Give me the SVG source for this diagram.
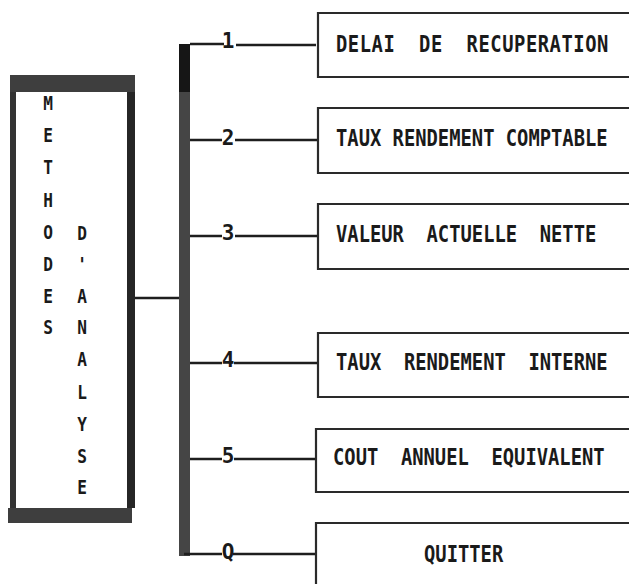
<svg xmlns="http://www.w3.org/2000/svg" width="629" height="584" viewBox="0 0 629 584">
<style>
.lbl{font-family:"DejaVu Sans Mono","Liberation Mono",monospace;font-weight:bold;font-size:18.8px;fill:#1a1a1a;white-space:pre}
.num{font-family:"DejaVu Sans Mono","Liberation Mono",monospace;font-weight:bold;font-size:21px;fill:#1a1a1a;text-anchor:middle}
.v{font-family:"DejaVu Sans Mono","Liberation Mono",monospace;font-weight:bold;font-size:19px;fill:#1a1a1a;text-anchor:middle}
.box{fill:#fff;stroke:#2a2a2a;stroke-width:2.2}
.wire{stroke:#1e1e1e;stroke-width:2.5;fill:none}
</style>
<rect width="629" height="584" fill="#fff"/>

<g id="methodes">
  <rect x="10" y="75" width="125" height="17" fill="#3e3e3e"/>
  <rect x="10" y="92" width="6" height="416" fill="#333"/>
  <rect x="127" y="92" width="8" height="416" fill="#262626"/>
  <rect x="8" y="508" width="124" height="15" fill="#3e3e3e"/>
  <text class="v" transform="translate(48 0) scale(0.85 1)" xml:space="preserve"><tspan x="0" y="110">M</tspan><tspan x="0" y="142">E</tspan><tspan x="0" y="174">T</tspan><tspan x="0" y="207">H</tspan><tspan x="0" y="239">O</tspan><tspan x="0" y="271">D</tspan><tspan x="0" y="303">E</tspan><tspan x="0" y="334">S</tspan></text>
  <text class="v" transform="translate(82 0) scale(0.85 1)" xml:space="preserve"><tspan x="0" y="240">D</tspan><tspan x="0" y="271">'</tspan><tspan x="0" y="303">A</tspan><tspan x="0" y="334">N</tspan><tspan x="0" y="366">A</tspan><tspan x="0" y="399">L</tspan><tspan x="0" y="431">Y</tspan><tspan x="0" y="463">S</tspan><tspan x="0" y="494">E</tspan></text>
</g>

<g id="connectors">
  <line class="wire" x1="135" y1="298" x2="180" y2="298"/>
  <rect x="179" y="92" width="11" height="464" fill="#454545"/>
  <rect x="179" y="44" width="11" height="48" fill="#161616"/>
  <path class="wire" d="M190 44 H224 M236 45 H316"/>
  <text class="num" x="228" y="48">1</text>
  <path class="wire" d="M190 140 H222 M235 140 H318"/>
  <text class="num" x="228" y="145">2</text>
  <path class="wire" d="M190 236 H222 M235 236 H318"/>
  <text class="num" x="228" y="240">3</text>
  <path class="wire" d="M190 363 H222 M234 363 H318"/>
  <text class="num" x="228" y="367">4</text>
  <path class="wire" d="M190 459 H222 M234 459 H316"/>
  <text class="num" x="228" y="463">5</text>
  <path class="wire" d="M184 554 H222 M233 554 H316"/>
  <text class="num" x="228" y="559">Q</text>
</g>

<g id="opt1">
  <path class="box" d="M629 13 H318 V77 H629"/>
  <text class="lbl" transform="translate(336 52) scale(1 1.22)" style="letter-spacing:0.55px" xml:space="preserve">DELAI  DE  RECUPERATION</text>
</g>
<g id="opt2">
  <path class="box" d="M629 108 H318 V173 H629"/>
  <text class="lbl" transform="translate(336 146) scale(1 1.22)" xml:space="preserve">TAUX RENDEMENT COMPTABLE</text>
</g>
<g id="opt3">
  <path class="box" d="M629 204 H318 V269 H629"/>
  <text class="lbl" transform="translate(336 242) scale(1 1.22)" xml:space="preserve">VALEUR  ACTUELLE  NETTE</text>
</g>
<g id="opt4">
  <path class="box" d="M629 333 H318 V397 H629"/>
  <text class="lbl" transform="translate(336 370) scale(1 1.22)" xml:space="preserve">TAUX  RENDEMENT  INTERNE</text>
</g>
<g id="opt5">
  <path class="box" d="M629 429 H316 V492 H629"/>
  <text class="lbl" transform="translate(333 465) scale(1 1.22)" xml:space="preserve">COUT  ANNUEL  EQUIVALENT</text>
</g>
<g id="quit">
  <path class="box" d="M629 523 H316 V584"/>
  <text class="lbl" transform="translate(424 562) scale(1 1.22)" xml:space="preserve">QUITTER</text>
</g>
</svg>
